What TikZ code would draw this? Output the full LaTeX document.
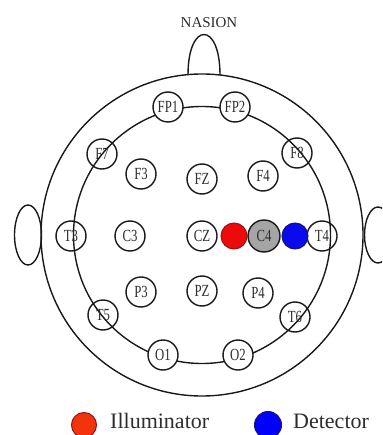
\documentclass[tikz,border=0pt]{standalone}
\usepackage{fontspec}
\usepackage{graphicx}
\setmainfont{Liberation Serif}
\definecolor{illred}{RGB}{236,10,10}
\definecolor{illredd}{RGB}{150,20,20}
\definecolor{detblue}{RGB}{10,10,236}
\definecolor{detblued}{RGB}{20,20,120}
\definecolor{legred}{RGB}{242,52,12}
\definecolor{c4gray}{RGB}{165,165,165}
\definecolor{labcol}{RGB}{45,45,45}
\newcommand{\elab}[1]{\scalebox{0.75}[1]{#1}}
\begin{document}
\begin{tikzpicture}[x=1pt,y=-1pt,
  headline/.style={line width=1.4pt,draw=black!90},
  elec/.style={circle,draw=black!90,line width=1.4pt,minimum size=30pt,inner sep=0pt,
    font=\fontsize{17}{17}\selectfont,text=labcol},
  elecw/.style={elec,fill=white},
  optode/.style={circle,draw,line width=1pt,minimum size=26pt,inner sep=0pt},
  legtext/.style={font=\fontsize{22}{22}\selectfont,text=labcol,inner sep=0pt,anchor=base west}]
\useasboundingbox (0,0) rectangle (382,435);
\clip (0,0) rectangle (382,435);
% head
\draw[headline] (202,235) circle [radius=161];
\draw[headline] (202,235) circle [radius=128.5];
\draw[headline] (188,75) .. controls (188,21) and (220,21) .. (220,75);
\draw[headline] (28,235) ellipse [x radius=13.5, y radius=30];
\draw[headline] (378,235) ellipse [x radius=13.5, y radius=28];
\node[font=\fontsize{15}{15}\selectfont,text=labcol,inner sep=0pt,anchor=base] (nasion) at (209,28) {NASION};
% perimeter electrodes
\node[elecw] (fp1) at (168,107) {\elab{FP1}};
\node[elecw] (fp2) at (235,107) {\elab{FP2}};
\node[elec] (f7) at (102,154) {\elab{F7}};
\node[elec] (f8) at (297,153) {\elab{F8}};
\node[elec] (t3) at (71,236) {\elab{T3}};
\node[elec] (t4) at (322,236) {\elab{T4}};
\node[elec] (t5) at (103,315) {\elab{T5}};
\node[elec] (t6) at (295,317) {\elab{T6}};
\node[elecw] (o1) at (163,355) {\elab{O1}};
\node[elecw] (o2) at (238,355) {\elab{O2}};
% interior electrodes
\node[elecw] (f3) at (141,174) {\elab{F3}};
\node[elecw] (fz) at (202,179) {\elab{FZ}};
\node[elecw] (f4) at (263,176) {\elab{F4}};
\node[elecw] (c3) at (130,236) {\elab{C3}};
\node[elecw] (cz) at (202,236) {\elab{CZ}};
\node[elecw] (p3) at (141,292) {\elab{P3}};
\node[elecw] (pz) at (202,291) {\elab{PZ}};
\node[elecw] (p4) at (258,293) {\elab{P4}};
\node[elec,fill=c4gray,minimum size=32pt] (c4) at (264,236) {\elab{C4}};
\node[optode,fill=illred,draw=illredd] (ill) at (234,236) {};
\node[optode,fill=detblue,draw=detblued] (det) at (295,236) {};
% legend
\node[optode,fill=legred,draw=illredd,minimum size=25pt] (legill) at (84,425) {};
\node[legtext] (legilltxt) at (110,428) {Illuminator};
\node[optode,fill=blue,draw=detblued,minimum size=27pt] (legdet) at (268,425) {};
\node[legtext] (legdettxt) at (293,428) {Detector};
\end{tikzpicture}
\end{document}
